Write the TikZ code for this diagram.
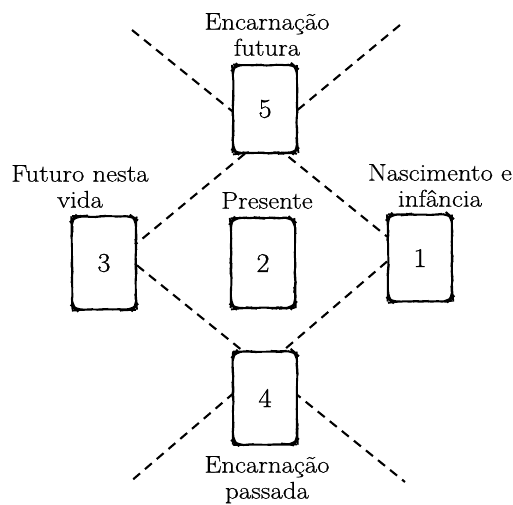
\documentclass[tikz,border=0pt]{standalone}
\usepackage{fontspec}
\newfontfamily\lblfont{Latin Modern Roman}[FakeStretch=1.12, FakeBold=0.6]
\newfontfamily\numfont{Latin Modern Roman}[FakeStretch=1.05, FakeBold=0.9]
\usetikzlibrary{backgrounds,decorations.pathmorphing}
\begin{document}
\begin{tikzpicture}[x=1pt,y=-1pt,
  card/.style={draw, line width=1.8pt, fill=white, rounded corners=8pt,
    minimum width=64pt, minimum height=90pt, inner sep=0pt,
    decorate, decoration={random steps, segment length=5pt, amplitude=0.45pt},
    font=\numfont\fontsize{27}{29}\selectfont},
  lbl/.style={align=center, inner sep=0pt, anchor=north,
    font=\lblfont\fontsize{24}{26}\selectfont},
  dashline/.style={line width=2.1pt, dash pattern=on 9pt off 6.5pt}]
\pgfmathsetseed{7}
\useasboundingbox (0,0) rectangle (513,504);
% cards
\node[card, minimum height=88pt] (c5) at (265,109) {5};
\node[card, minimum height=93pt] (c3) at (104,263) {3};
\node[card] (c2) at (263,263) {2};
\node[card, minimum height=87pt] (c1) at (420,258) {1};
\node[card, minimum height=93pt] (c4) at (265,398) {4};
% labels
\node[lbl] (l5) at (267,13) {Encarnação\\futura};
\node[lbl] (l3) at (80,165) {Futuro nesta\\vida};
\node[lbl] (l1) at (440,164) {Nascimento e\\infância};
\node[lbl] (l2) at (267,192) {Presente};
\node[lbl] (l4) at (267,456) {Encarnação\\passada};
% free ends
\coordinate (tl) at (132,30);
\coordinate (tr) at (400,25);
\coordinate (bl) at (130,482);
\coordinate (br) at (405,482);
\begin{scope}[on background layer]
\fill[white] (0,0) rectangle (513,504);
\draw[dashline] (tl) -- (c1.147);
\draw[dashline] (tr) -- (c3.31);
\draw[dashline] (c3.-4) -- (br);
\draw[dashline] (c1.186) -- (bl);
\end{scope}
\end{tikzpicture}
\end{document}
